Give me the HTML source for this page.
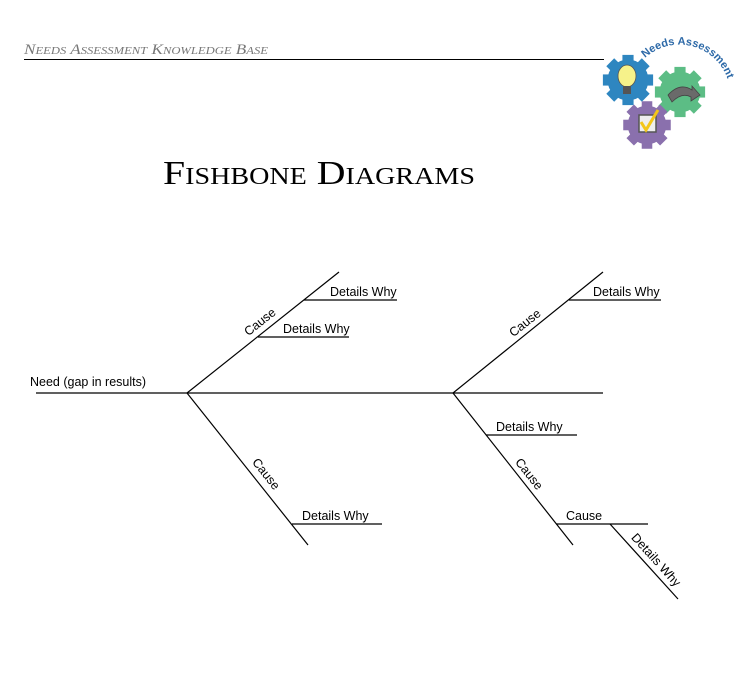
<!DOCTYPE html>
<html><head><meta charset="utf-8"><style>
html,body{margin:0;padding:0;background:#fff;}
svg{display:block;}
.l{font-family:"Liberation Sans",Arial,sans-serif;font-size:12.5px;fill:#000;}
</style></head><body>
<svg width="756" height="686" viewBox="0 0 756 686" xmlns="http://www.w3.org/2000/svg">
<defs>
<g id="gear">
<rect x="-6" y="-27" width="12" height="54"/>
<rect x="-6" y="-27" width="12" height="54" transform="rotate(45)"/>
<rect x="-6" y="-27" width="12" height="54" transform="rotate(90)"/>
<rect x="-6" y="-27" width="12" height="54" transform="rotate(135)"/>
<circle r="22"/>
</g>
<path id="arc" d="M 645 58 A 51 51 0 0 1 730 102"/>
</defs>
<text x="24" y="54" font-family="'Liberation Serif',serif" font-style="italic" font-variant="small-caps" font-size="15" fill="#777" textLength="244" lengthAdjust="spacingAndGlyphs">Needs Assessment Knowledge Base</text>
<line x1="24" y1="59.5" x2="604" y2="59.5" stroke="#000" stroke-width="1"/>
<g fill="#2e86c0"><use href="#gear" transform="translate(628,80) scale(0.93)"/></g>
<g fill="#5cbd85"><use href="#gear" transform="translate(680,92) scale(0.93)"/></g>
<g fill="#8a70ad"><use href="#gear" transform="translate(647,125) scale(0.88)"/></g>
<ellipse cx="627" cy="76" rx="9" ry="11" fill="#f6f28a" stroke="#555" stroke-width="0.8"/>
<rect x="623" y="86" width="8" height="8" fill="#555"/>
<path d="M668 95 Q680 82 692 90 L692 86 L700 95 L691 101 L691 97 Q682 92 672 102 Z" fill="#6a6a6a" stroke="#444" stroke-width="0.8"/>
<rect x="639" y="115" width="17" height="17" fill="#eee" stroke="#555" stroke-width="1.5"/>
<path d="M641 122 L646 130 L658 110" fill="none" stroke="#f3c61a" stroke-width="3"/>
<text font-family="'Liberation Sans',sans-serif" font-weight="bold" font-size="11" fill="#2e6aa8"><textPath href="#arc">Needs Assessment</textPath></text>
<text x="163" y="184" font-family="'Liberation Serif',serif" font-variant="small-caps" font-size="34" fill="#000" textLength="312" lengthAdjust="spacingAndGlyphs">Fishbone Diagrams</text>
<g stroke="#000" stroke-width="1.2" fill="none">
<line x1="36" y1="393" x2="603" y2="393"/>
<line x1="187" y1="393" x2="339" y2="272"/>
<line x1="187" y1="393" x2="308" y2="545"/>
<line x1="453" y1="393" x2="603" y2="272"/>
<line x1="453" y1="393" x2="573" y2="545"/>
<line x1="304" y1="300" x2="397" y2="300"/>
<line x1="258" y1="337" x2="349" y2="337"/>
<line x1="292" y1="524" x2="382" y2="524"/>
<line x1="569" y1="300" x2="661" y2="300"/>
<line x1="486" y1="435" x2="577" y2="435"/>
<line x1="556" y1="524" x2="648" y2="524"/>
<line x1="610" y1="524" x2="678" y2="599"/>
</g>
<text class="l" x="30" y="386">Need (gap in results)</text>
<text class="l" x="330" y="296">Details Why</text>
<text class="l" x="283" y="333">Details Why</text>
<text class="l" x="302" y="520">Details Why</text>
<text class="l" x="593" y="296">Details Why</text>
<text class="l" x="496" y="431">Details Why</text>
<text class="l" x="566" y="520">Cause</text>
<text class="l" text-anchor="middle" y="4" transform="translate(260,322) rotate(-38.5)">Cause</text>
<text class="l" text-anchor="middle" y="4" transform="translate(525,323) rotate(-38.5)">Cause</text>
<text class="l" text-anchor="middle" y="4" transform="translate(266,474) rotate(51.5)">Cause</text>
<text class="l" text-anchor="middle" y="4" transform="translate(529,474) rotate(51.5)">Cause</text>
<text class="l" text-anchor="middle" y="4" transform="translate(656,560) rotate(47.8)">Details Why</text>
</svg>
</body></html>
